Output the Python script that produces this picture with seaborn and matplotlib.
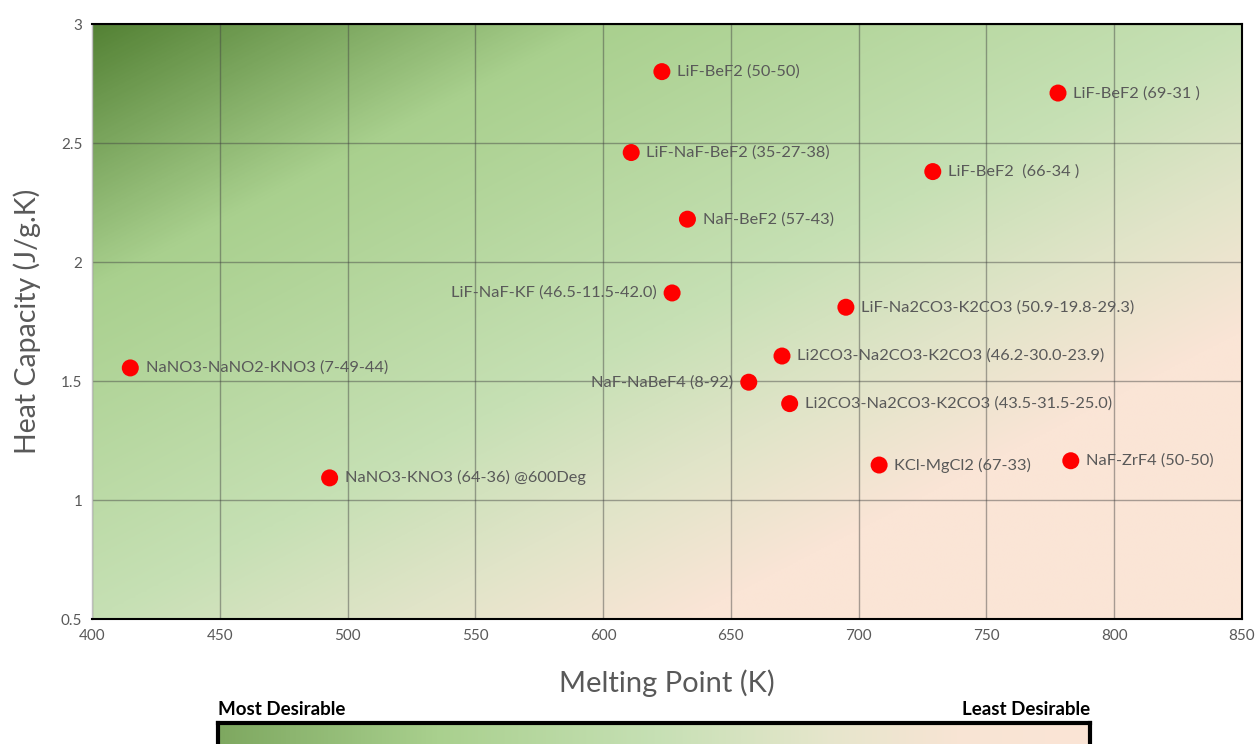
import numpy as np
import pandas as pd
import matplotlib
matplotlib.use("Agg")
import matplotlib.pyplot as plt
from matplotlib.colors import LinearSegmentedColormap
import seaborn as sns

# salt data
salts = ["LiF-BeF2 (50-50)", "LiF-BeF2 (69-31 )", "LiF-NaF-BeF2 (35-27-38)", "LiF-BeF2  (66-34 )",
         "NaF-BeF2 (57-43)", "LiF-NaF-KF (46.5-11.5-42.0)", "LiF-Na2CO3-K2CO3 (50.9-19.8-29.3)",
         "NaNO3-NaNO2-KNO3 (7-49-44)", "Li2CO3-Na2CO3-K2CO3 (46.2-30.0-23.9)", "NaF-NaBeF4 (8-92)",
         "Li2CO3-Na2CO3-K2CO3 (43.5-31.5-25.0)", "KCl-MgCl2 (67-33)", "NaF-ZrF4 (50-50)",
         "NaNO3-KNO3 (64-36) @600Deg"]
melting_point = [623, 778, 611, 729, 633, 627, 695, 415, 670, 657, 673, 708, 783, 493]
heat_capacity = [2.80, 2.71, 2.46, 2.38, 2.18, 1.87, 1.81, 1.555, 1.605, 1.495, 1.405, 1.147, 1.165, 1.093]
label_left = ["LiF-NaF-KF (46.5-11.5-42.0)", "NaF-NaBeF4 (8-92)"]

x_ticks = [400, 450, 500, 550, 600, 650, 700, 750, 800, 850]
y_ticks = [0.5, 1, 1.5, 2, 2.5, 3]

df = pd.DataFrame({"salt": salts, "mp": melting_point, "cp": heat_capacity})

sns.set_theme(style="white")
plt.rcParams['font.family'] = ['Lato', 'DejaVu Sans']

# gradient green -> peach
cmap = LinearSegmentedColormap.from_list("desir", [
    (0.0, "#548235"), (0.22, "#a9d08e"), (0.5, "#c6e0b4"),
    (0.63, "#e0e4c8"), (0.76, "#fae5d6"), (1.0, "#fbe5d6")])

fig = plt.figure(figsize=(12.58, 7.44), dpi=100)
ax = fig.add_axes([0.0731, 0.168, 0.9142, 0.7997])

u = np.linspace(0, 1, 400)
v = np.linspace(0, 1, 400)
U, V = np.meshgrid(u, v)
T = (U + V) / 2
ax.imshow(T, cmap=cmap, vmin=0, vmax=1, extent=[400, 850, 0.5, 3],
          origin="upper", aspect="auto", zorder=0, interpolation="bilinear")

sns.scatterplot(data=df, x="mp", y="cp", ax=ax, color="#ff0000", s=150,
                edgecolor="none", zorder=3, legend=False)

for _, r in df.iterrows():
    if r["salt"] in label_left:
        ax.annotate(r["salt"], (r["mp"], r["cp"]), xytext=(-11, 0), textcoords="offset points",
                    ha="right", va="center", fontsize=11.8, color="#595959")
    else:
        ax.annotate(r["salt"], (r["mp"], r["cp"]), xytext=(11, 0), textcoords="offset points",
                    ha="left", va="center", fontsize=11.8, color="#595959")

ax.set_xlim(400, 850)
ax.set_ylim(0.5, 3)
ax.set_xticks(x_ticks)
ax.set_yticks(y_ticks)
ax.set_yticklabels(["0.5", "1", "1.5", "2", "2.5", "3"])
ax.grid(True, color="#404040", alpha=0.45, linewidth=1)
ax.set_axisbelow(True)
ax.tick_params(axis="both", labelsize=11, colors="#595959", length=0, pad=7)
ax.set_xlabel("Melting Point (K)", fontsize=21, color="#595959", labelpad=19)
ax.set_ylabel("Heat Capacity (J/g.K)", fontsize=20.5, color="#595959", labelpad=14)
for side in ["top", "bottom", "right"]:
    ax.spines[side].set_color("black")
    ax.spines[side].set_linewidth(1.5)
ax.spines["left"].set_color("#bfbfbf")
ax.spines["left"].set_linewidth(1)

# desirability bar
cax = fig.add_axes([0.1733, -0.01, 0.6932, 0.038])
grad = np.linspace(0, 1, 500)[None, :]
bar_cmap = LinearSegmentedColormap.from_list("bar", [
    (0.0, "#7ea860"), (0.25, "#a9d08e"), (0.5, "#c6e0b4"), (0.7, "#e6e6cc"), (0.85, "#f8e4d4"), (1.0, "#fbe5d6")])
cax.imshow(grad, cmap=bar_cmap, aspect="auto", extent=[0, 1, 0, 1])
cax.set_xticks([])
cax.set_yticks([])
for s in cax.spines.values():
    s.set_color("black")
    s.set_linewidth(3)
fig.text(0.1733, 0.035, "Most Desirable", fontsize=13.5, fontweight="bold", color="black", ha="left", va="bottom")
fig.text(0.8665, 0.035, "Least Desirable", fontsize=13.5, fontweight="bold", color="black", ha="right", va="bottom")

fig.savefig("out.png", dpi=100)
